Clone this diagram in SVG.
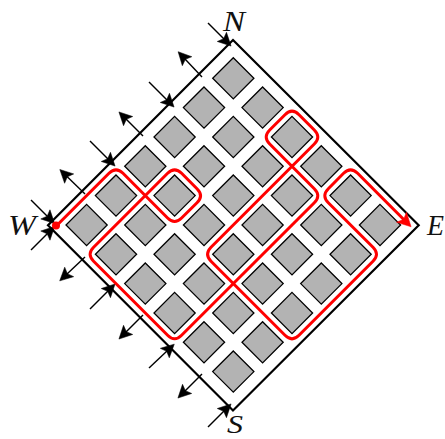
<svg xmlns="http://www.w3.org/2000/svg" width="445" height="439" viewBox="0 0 445 439">
<style>
.b{fill:#b3b3b3;stroke:#000;stroke-width:1.3;stroke-linejoin:miter}
.e{fill:none;stroke:#000;stroke-width:2.2;stroke-linejoin:miter}
.a{fill:none;stroke:#000;stroke-width:1.4;marker-end:url(#h)}
.r{fill:none;stroke:#f00;stroke-width:3;stroke-linejoin:round}
.l{font-family:"Liberation Serif",serif;font-style:italic;font-size:29px;fill:#111}
</style>
<defs>
<path id="d" class="b" d="M0-20.6L20.6 0L0 20.6L-20.6 0Z"/>
<marker id="h" markerUnits="userSpaceOnUse" markerWidth="20" markerHeight="20" refX="0" refY="0" viewBox="-5 -10 20 20" orient="auto" overflow="visible"><path d="M10 0L-3-6.5L-.5 0L-3 6.5Z" fill="#000" stroke="#000" stroke-width=".5"/></marker>
<marker id="hr" markerUnits="userSpaceOnUse" markerWidth="20" markerHeight="20" refX="0" refY="0" viewBox="-5 -10 20 20" orient="auto" overflow="visible"><path d="M10 0L-3.5-7L-.5 0L-3.5 7Z" fill="#f00" stroke="#f00" stroke-width=".5"/></marker>
</defs>
<g id="blocks">
<g id="b00"><use href="#d" x="233.3" y="78.3"/></g>
<g id="b01"><use href="#d" x="204" y="107.6"/></g>
<g id="b02"><use href="#d" x="262.6" y="107.6"/></g>
<g id="b03"><use href="#d" x="174.6" y="137"/></g>
<g id="b04"><use href="#d" x="233.3" y="137"/></g>
<g id="b05"><use href="#d" x="292" y="137"/></g>
<g id="b06"><use href="#d" x="145.3" y="166.3"/></g>
<g id="b07"><use href="#d" x="204" y="166.3"/></g>
<g id="b08"><use href="#d" x="262.6" y="166.3"/></g>
<g id="b09"><use href="#d" x="321.3" y="166.3"/></g>
<g id="b10"><use href="#d" x="116" y="195.6"/></g>
<g id="b11"><use href="#d" x="174.6" y="195.6"/></g>
<g id="b12"><use href="#d" x="233.3" y="195.6"/></g>
<g id="b13"><use href="#d" x="292" y="195.6"/></g>
<g id="b14"><use href="#d" x="350.6" y="195.6"/></g>
<g id="b15"><use href="#d" x="86.6" y="225"/></g>
<g id="b16"><use href="#d" x="145.3" y="225"/></g>
<g id="b17"><use href="#d" x="204" y="225"/></g>
<g id="b18"><use href="#d" x="262.6" y="225"/></g>
<g id="b19"><use href="#d" x="321.3" y="225"/></g>
<g id="b20"><use href="#d" x="380" y="225"/></g>
<g id="b21"><use href="#d" x="116" y="254.3"/></g>
<g id="b22"><use href="#d" x="174.6" y="254.3"/></g>
<g id="b23"><use href="#d" x="233.3" y="254.3"/></g>
<g id="b24"><use href="#d" x="292" y="254.3"/></g>
<g id="b25"><use href="#d" x="350.6" y="254.3"/></g>
<g id="b26"><use href="#d" x="145.3" y="283.6"/></g>
<g id="b27"><use href="#d" x="204" y="283.6"/></g>
<g id="b28"><use href="#d" x="262.6" y="283.6"/></g>
<g id="b29"><use href="#d" x="321.3" y="283.6"/></g>
<g id="b30"><use href="#d" x="174.6" y="313"/></g>
<g id="b31"><use href="#d" x="233.3" y="313"/></g>
<g id="b32"><use href="#d" x="292" y="313"/></g>
<g id="b33"><use href="#d" x="204" y="342.3"/></g>
<g id="b34"><use href="#d" x="262.6" y="342.3"/></g>
<g id="b35"><use href="#d" x="233.3" y="371.6"/></g>
</g>
<g id="connectors">
<path class="e" d="M233 40L418.7 225.2L233 410.5L48 225.2Z"/>
<path class="a" d="M31 200L47.5 216.5"/>
<path class="a" d="M85 194L67 176.5"/>
<path class="a" d="M90 141L108 159"/>
<path class="a" d="M143 136L126 119"/>
<path class="a" d="M149 82L167 100"/>
<path class="a" d="M202 77L185 59"/>
<path class="a" d="M208 23L224 39"/>
<path class="a" d="M31 250L47.5 233.5"/>
<path class="a" d="M85 257L67 274"/>
<path class="a" d="M90 309L108 291"/>
<path class="a" d="M143 315L126 332"/>
<path class="a" d="M149 368L167 351"/>
<path class="a" d="M202 374L185 391"/>
<path class="a" d="M208 427L224 411"/>
<path class="r" marker-end="url(#hr)" d="M56 226.3L109 173.3Q116 166.3 123 173.3L167.6 218Q174.6 225 181.6 218L197 202.7Q204 195.7 197 188.7L181.6 173.3Q174.6 166.3 167.6 173.3L93.6 247.3Q86.6 254.3 93.6 261.3L167.6 335.3Q174.6 342.3 181.6 335.3L314.3 202.7Q321.3 195.7 314.3 188.7L269.7 144Q262.7 137 269.7 130L285 114.7Q292 107.7 299 114.7L314.3 130Q321.3 137 314.3 144L211 247.3Q204 254.3 211 261.3L285 335.3Q292 342.3 299 335.3L373 261.3Q380 254.3 373 247.3L328.3 202.7Q321.3 195.7 328.3 188.7L343.6 173.3Q350.6 166.3 357.6 173.3L404 219.7"/>
<circle cx="56" cy="225.5" r="4" fill="#f00"/>
</g>
<g id="labels">
<text class="l" x="8" y="235" textLength="28" lengthAdjust="spacingAndGlyphs">W</text>
<text class="l" x="223" y="31" textLength="22" lengthAdjust="spacingAndGlyphs">N</text>
<text class="l" x="427" y="235" textLength="17" lengthAdjust="spacingAndGlyphs">E</text>
<text class="l" x="227" y="433" style="font-size:26px" textLength="16" lengthAdjust="spacingAndGlyphs">S</text>
</g>
</svg>
